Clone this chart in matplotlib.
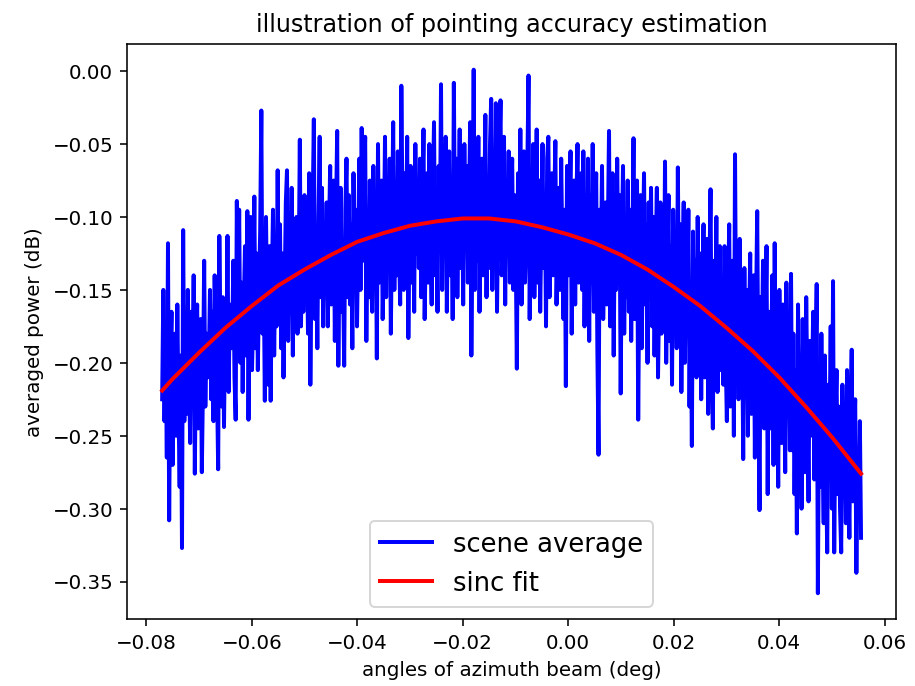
import numpy as np
import matplotlib
matplotlib.use('Agg')
import matplotlib.pyplot as plt

# angle range of the scene average (deg), evenly sampled
angle_start = -0.077
angle_end = 0.0555

# averaged power (dB), left to right
power = [
    -0.225, -0.150, -0.240, -0.185, -0.265, -0.118, -0.308, -0.200, -0.165, -0.270,
    -0.215, -0.180, -0.250, -0.160, -0.230, -0.285, -0.195, -0.327, -0.109, -0.240,
    -0.175, -0.235, -0.150, -0.205, -0.255, -0.165, -0.220, -0.140, -0.276, -0.190,
    -0.160, -0.245, -0.200, -0.170, -0.275, -0.215, -0.130, -0.230, -0.180, -0.210,
    -0.200, -0.150, -0.225, -0.165, -0.240, -0.140, -0.195, -0.215, -0.273, -0.113,
    -0.185, -0.230, -0.155, -0.244, -0.170, -0.205, -0.113, -0.220, -0.160, -0.190,
    -0.185, -0.130, -0.210, -0.239, -0.089, -0.175, -0.095, -0.200, -0.145, -0.220,
    -0.160, -0.120, -0.195, -0.096, -0.239, -0.140, -0.100, -0.205, -0.170, -0.086,
    -0.190, -0.125, -0.205, -0.150, -0.110, -0.027, -0.180, -0.135, -0.226, -0.100,
    -0.165, -0.215, -0.120, -0.226, -0.145, -0.095, -0.195, -0.130, -0.175, -0.068,
    -0.170, -0.105, -0.190, -0.125, -0.210, -0.150, -0.090, -0.068, -0.185, -0.130,
    -0.165, -0.080, -0.195, -0.115, -0.160, -0.100, -0.180, -0.140, -0.047, -0.175,
    -0.110, -0.165, -0.085, -0.150, -0.120, -0.180, -0.070, -0.215, -0.140, -0.095,
    -0.033, -0.170, -0.125, -0.190, -0.100, -0.045, -0.155, -0.080, -0.175, -0.115,
    -0.150, -0.090, -0.175, -0.110, -0.065, -0.160, -0.130, -0.075, -0.185, -0.100,
    -0.041, -0.202, -0.120, -0.080, -0.165, -0.140, -0.202, -0.095, -0.060, -0.155,
    -0.085, -0.160, -0.105, -0.190, -0.070, -0.140, -0.095, -0.175, -0.120, -0.060,
    -0.150, -0.039, -0.130, -0.080, -0.045, -0.185, -0.110, -0.155, -0.075, -0.140,
    -0.165, -0.065, -0.130, -0.090, -0.197, -0.050, -0.145, -0.100, -0.075, -0.170,
    -0.120, -0.045, -0.155, -0.085, -0.135, -0.060, -0.180, -0.105, -0.035, -0.150,
    -0.080, -0.140, -0.055, -0.120, -0.160, -0.010, -0.095, -0.150, -0.070, -0.130,
    -0.045, -0.183, -0.110, -0.065, -0.145, -0.090, -0.165, -0.050, -0.125, -0.075,
    -0.135, -0.060, -0.155, -0.090, -0.040, -0.170, -0.115, -0.070, -0.145, -0.050,
    -0.125, -0.160, -0.085, -0.035, -0.140, -0.100, -0.165, -0.065, -0.120, -0.009,
    -0.150, -0.070, -0.125, -0.045, -0.165, -0.095, -0.055, -0.140, -0.080, -0.170,
    -0.008, -0.115, -0.060, -0.155, -0.100, -0.040, -0.135, -0.075, -0.160, -0.050,
    -0.120, -0.065, -0.145, -0.090, -0.035, -0.195, -0.110, 0.001, -0.150, -0.070,
    -0.130, -0.045, -0.165, -0.085, -0.060, -0.140, -0.100, -0.030, -0.155, -0.075,
    -0.135, -0.050, -0.019, -0.150, -0.080, -0.120, -0.022, -0.165, -0.095, -0.060,
    -0.020, -0.140, -0.110, -0.045, -0.160, -0.075, -0.125, -0.055, -0.145, -0.090,
    -0.060, -0.150, -0.085, -0.120, -0.204, -0.070, -0.135, -0.040, -0.160, -0.095,
    -0.055, -0.145, -0.115, -0.065, -0.003, -0.170, -0.090, -0.130, -0.050, -0.155,
    -0.100, -0.040, -0.145, -0.075, -0.165, -0.110, -0.050, -0.135, -0.085, -0.175,
    -0.060, -0.045, -0.155, -0.120, -0.070, -0.140, -0.095, -0.048, -0.160, -0.115,
    -0.080, -0.150, -0.060, -0.125, -0.170, -0.095, -0.216, -0.065, -0.140, -0.105,
    -0.055, -0.180, -0.115, -0.075, -0.160, -0.090, -0.050, -0.145, -0.125, -0.070,
    -0.150, -0.055, -0.175, -0.100, -0.130, -0.060, -0.185, -0.085, -0.145, -0.050,
    -0.165, -0.110, -0.070, -0.190, -0.263, -0.095, -0.140, -0.065, -0.170, -0.120,
    -0.090, -0.160, -0.110, -0.041, -0.175, -0.130, -0.070, -0.195, -0.100, -0.150,
    -0.060, -0.140, -0.085, -0.221, -0.115, -0.065, -0.180, -0.105, -0.155, -0.075,
    -0.165, -0.095, -0.185, -0.120, -0.046, -0.170, -0.110, -0.075, -0.239, -0.140,
    -0.085, -0.190, -0.125, -0.070, -0.160, -0.105, -0.200, -0.090, -0.150, -0.080,
    -0.175, -0.100, -0.195, -0.130, -0.080, -0.210, -0.150, -0.090, -0.180, -0.115,
    -0.165, -0.062, -0.200, -0.135, -0.085, -0.185, -0.120, -0.215, -0.095, -0.160,
    -0.120, -0.190, -0.066, -0.170, -0.105, -0.220, -0.140, -0.090, -0.200, -0.125,
    -0.175, -0.095, -0.230, -0.150, -0.257, -0.110, -0.185, -0.130, -0.210, -0.100,
    -0.195, -0.125, -0.225, -0.150, -0.105, -0.210, -0.180, -0.115, -0.235, -0.140,
    -0.081, -0.200, -0.245, -0.130, -0.175, -0.100, -0.220, -0.160, -0.120, -0.205,
    -0.145, -0.215, -0.120, -0.195, -0.240, -0.155, -0.105, -0.230, -0.170, -0.130,
    -0.250, -0.057, -0.190, -0.140, -0.225, -0.115, -0.205, -0.160, -0.266, -0.135,
    -0.220, -0.150, -0.250, -0.175, -0.125, -0.235, -0.200, -0.140, -0.265, -0.165,
    -0.096, -0.215, -0.301, -0.155, -0.190, -0.130, -0.245, -0.180, -0.120, -0.290,
    -0.165, -0.245, -0.190, -0.140, -0.270, -0.118, -0.230, -0.175, -0.285, -0.150,
    -0.215, -0.255, -0.160, -0.200, -0.275, -0.145, -0.235, -0.185, -0.260, -0.139,
    -0.260, -0.180, -0.290, -0.205, -0.317, -0.160, -0.245, -0.195, -0.300, -0.170,
    -0.235, -0.275, -0.155, -0.220, -0.295, -0.185, -0.250, -0.210, -0.165, -0.280,
    -0.200, -0.146, -0.358, -0.230, -0.285, -0.180, -0.260, -0.310, -0.195, -0.270,
    -0.330, -0.215, -0.250, -0.175, -0.300, -0.144, -0.330, -0.240, -0.205, -0.290,
    -0.230, -0.300, -0.330, -0.215, -0.285, -0.245, -0.310, -0.205, -0.270, -0.320,
    -0.235, -0.191, -0.295, -0.250, -0.225, -0.344, -0.260, -0.300, -0.240, -0.320,
]

# sinc fit, read at a few angles
fit_angle = [-0.077, -0.075, -0.070, -0.065, -0.060, -0.055, -0.050, -0.045, -0.040,
             -0.035, -0.030, -0.025, -0.020, -0.018, -0.015, -0.010, -0.005, 0.000,
             0.005, 0.010, 0.015, 0.020, 0.025, 0.030, 0.035, 0.040, 0.045, 0.050, 0.0555]
fit_power = [-0.219, -0.211, -0.193, -0.176, -0.161, -0.147, -0.136, -0.126, -0.117,
             -0.111, -0.106, -0.103, -0.101, -0.101, -0.101, -0.103, -0.107, -0.112,
             -0.118, -0.126, -0.136, -0.148, -0.161, -0.176, -0.192, -0.210, -0.230, -0.251, -0.276]

angle = np.linspace(angle_start, angle_end, len(power))

fig = plt.figure(figsize=(6.4, 4.8), dpi=143)
ax = fig.add_axes([0.139, 0.097, 0.840, 0.839])
ax.plot(angle, power, 'b-', lw=2)
ax.plot(fit_angle, fit_power, 'r-', lw=2)
ax.set_xlabel('angles of azimuth beam (deg)')
ax.set_ylabel('averaged power (dB)')
ax.set_title('illustration of pointing accuracy estimation')
ax.legend(['scene average', 'sinc fit'], loc='lower center', fontsize=13)
fig.savefig('out.png', dpi=143)
plt.close()
